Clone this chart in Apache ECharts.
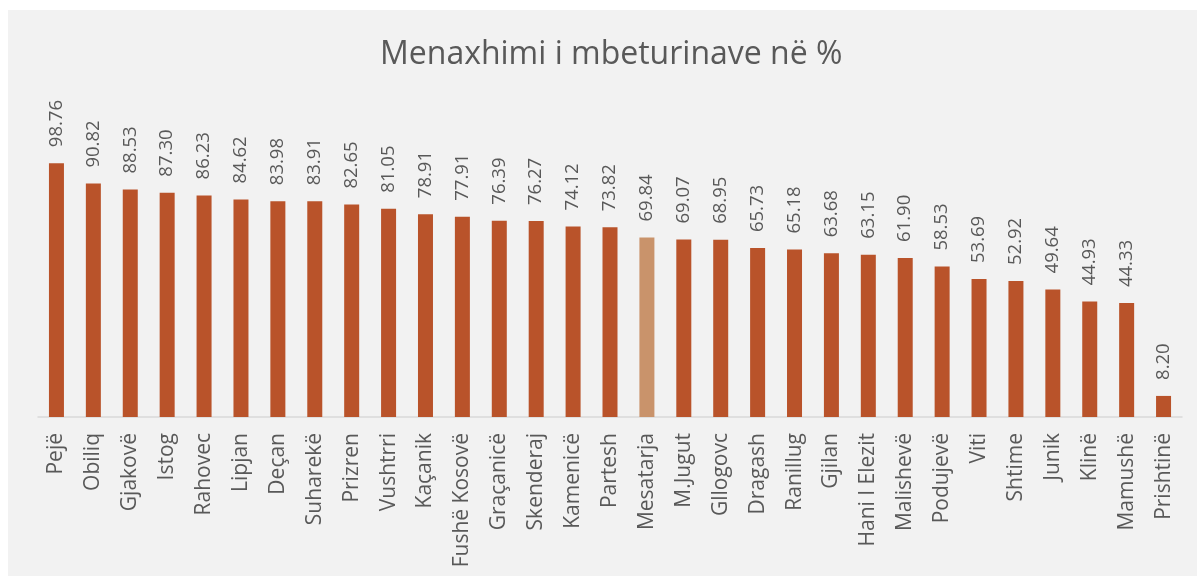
<!DOCTYPE html>
<html>
<head>
<meta charset="utf-8">
<script src="https://cdn.jsdelivr.net/npm/echarts@6/dist/echarts.min.js"></script>
<style>
  html, body { margin: 0; padding: 0; background: #ffffff; }
  #chart { width: 1197px; height: 576px; }
</style>
</head>
<body>
<div id="chart"></div>
<script>
// Municipalities, ordered from highest to lowest share
const categories = [
  'Pejë', 'Obiliq', 'Gjakovë', 'Istog', 'Rahovec', 'Lipjan', 'Deçan', 'Suharekë',
  'Prizren', 'Vushtrri', 'Kaçanik', 'Fushë Kosovë', 'Graçanicë', 'Skenderaj',
  'Kamenicë', 'Partesh', 'Mesatarja', 'M.Jugut', 'Gllogovc', 'Dragash', 'Ranillug',
  'Gjilan', 'Hani I Elezit', 'Malishevë', 'Podujevë', 'Viti', 'Shtime', 'Junik',
  'Klinë', 'Mamushë', 'Prishtinë'
];

// Waste management coverage, percent
const values = [
  98.76, 90.82, 88.53, 87.30, 86.23, 84.62, 83.98, 83.91,
  82.65, 81.05, 78.91, 77.91, 76.39, 76.27,
  74.12, 73.82, 69.84, 69.07, 68.95, 65.73, 65.18,
  63.68, 63.15, 61.90, 58.53, 53.69, 52.92, 49.64,
  44.93, 44.33, 8.20
];

// The national average is highlighted
const averageLabel = 'Mesatarja';

const titleText = 'Menaxhimi i mbeturinave në %';

const BAR = '#b9532a';
const BAR_AVG = '#c9936b';
const TEXT = '#595959';
const FONT = '"Open Sans", "DejaVu Sans", sans-serif';

const chart = echarts.init(document.getElementById('chart'), null, { renderer: 'canvas' });

chart.setOption({
  backgroundColor: '#ffffff',
  animation: false,
  graphic: [{
    type: 'rect',
    left: 8, top: 10,
    shape: { width: 1189, height: 566 },
    style: { fill: '#f2f2f2' },
    z: -10, silent: true
  }],
  title: {
    text: titleText,
    left: 375,
    top: 34,
    textStyle: { color: TEXT, fontFamily: FONT, fontSize: 32, fontWeight: 'normal' }
  },
  grid: { left: 38, right: 15, top: 160, bottom: 159, containLabel: false },
  xAxis: {
    type: 'category',
    data: categories,
    axisLine: { show: true, lineStyle: { color: '#d9d9d9', width: 1.5 } },
    axisTick: { show: false },
    axisLabel: {
      rotate: 90,
      interval: 0,
      margin: 16,
      color: TEXT,
      fontFamily: FONT,
      fontSize: 21
    }
  },
  yAxis: {
    type: 'value',
    min: 0,
    max: 100,
    show: false,
    splitLine: { show: false }
  },
  series: [{
    type: 'bar',
    barWidth: 15,
    data: values.map((v, i) => ({
      value: v,
      itemStyle: { color: categories[i] === averageLabel ? BAR_AVG : BAR }
    })),
    label: {
      show: true,
      position: 'top',
      rotate: 90,
      align: 'left',
      verticalAlign: 'middle',
      distance: 16,
      color: TEXT,
      fontFamily: FONT,
      fontSize: 18.5,
      formatter: p => p.value.toFixed(2)
    }
  }]
});
</script>
</body>
</html>
